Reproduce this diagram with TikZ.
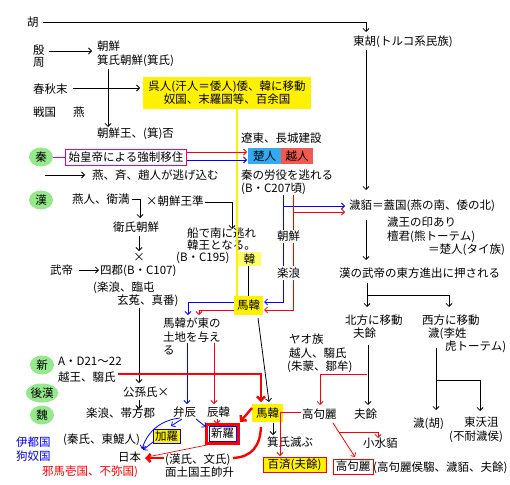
\documentclass[tikz,border=0pt]{standalone}
\usepackage{fontspec}
\newfontfamily\jp{Noto Sans CJK JP}
\usetikzlibrary{arrows.meta,shapes.geometric}
\definecolor{grn}{RGB}{150,232,140}
\definecolor{sky}{RGB}{51,170,240}
\definecolor{tomatoc}{RGB}{240,90,80}
\definecolor{paley}{RGB}{255,255,110}
\begin{document}
\begin{tikzpicture}[x=1pt,y=-1pt,
  lbl/.style={font=\jp\fontsize{11.5}{12}\selectfont, inner sep=0pt, anchor=west, text height=10pt, text depth=1.5pt},
  bx/.style={font=\jp\fontsize{11.5}{12}\selectfont, inner sep=0pt, anchor=center},
  gr/.style={ellipse, fill=grn, inner sep=0pt, font=\jp\fontsize{11.5}{12}\selectfont},
  ar/.style={-{Straight Barb[length=3pt,width=6pt]}, line width=0.8pt},
  ln/.style={line width=0.8pt},
  tr/.style={red, line width=2.4pt},
  tra/.style={red, line width=2.4pt, -{Straight Barb[length=4pt,width=8pt]}}]
\useasboundingbox (0,0) rectangle (510,484);
\fill[white] (0,0) rectangle (510,484);

% ---------- boxes ----------
\node[bx, fill=yellow, minimum width=168pt, minimum height=31pt, align=center] (wu) at (227,93) {呉人(汗人＝倭人)倭、韓に移動\\[1pt]奴国、末羅国等、百余国};
\node[bx, draw=magenta, line width=1pt, minimum width=121pt, minimum height=16pt] (shiko) at (126,157) {始皇帝による強制移住};
\node[bx, fill=sky, minimum width=33pt, minimum height=16pt] (chu) at (264.5,156) {楚人};
\node[bx, fill=tomatoc, minimum width=32pt, minimum height=16pt] (yue) at (297,156) {越人};
\node[bx, fill=paley, minimum width=23pt, minimum height=14pt] (hanbox) at (249.5,259) {韓};
\node[bx, fill=yellow, minimum width=29pt, minimum height=19pt] (mahan1) at (248.5,305.5) {馬韓};
\node[bx, fill=yellow, minimum width=31pt, minimum height=18pt] (mahan2) at (267.5,413) {馬韓};
\node[bx, fill=yellow, draw=blue, line width=0.8pt, minimum width=27pt, minimum height=14pt] (kara) at (166.5,436) {加羅};
\draw[red, line width=2.2pt] (206.5,424.5) rectangle (238.5,443.5);
\node[bx, fill=white, draw=blue, line width=0.8pt, minimum width=27pt, minimum height=15pt, text height=9pt, text depth=1.5pt] (silla) at (222.5,434) {新羅};
\node[bx, fill=yellow, draw=red, line width=0.9pt, minimum width=63pt, minimum height=15pt] (baekje) at (294.5,464.5) {百済(夫餘)};
\node[bx, draw=red, line width=0.9pt, minimum width=40pt, minimum height=15pt] (gogu2) at (353,466.5) {高句麗};

% ---------- green ellipses ----------
\node[gr, minimum width=24pt, minimum height=19pt] (qin) at (41,157) {秦};
\node[gr, minimum width=24pt, minimum height=19pt] (hann) at (41,200) {漢};
\node[gr, minimum width=24pt, minimum height=19pt] (xin) at (42,365) {新};
\node[gr, minimum width=32pt, minimum height=19pt] (houhan) at (42,393) {後漢};
\node[gr, minimum width=24pt, minimum height=19pt] (wei) at (42,415) {魏};

% ---------- labels ----------
\node[lbl] (hu) at (27,22) {胡};
\node[lbl] (yin) at (33,50) {殷};
\node[lbl] (zhou) at (33,62) {周};
\node[lbl] (cx1) at (97,46) {朝鮮};
\node[lbl] (cx2) at (97,60) {箕氏朝鮮(箕氏)};
\node[lbl] (chunqiu) at (33,89) {春秋末};
\node[lbl] (zhanguo) at (33,112) {戦国};
\node[lbl] (yan) at (73,112) {燕};
\node[lbl] (cxw) at (97,133) {朝鮮王、(箕)否};
\node[lbl] (liaodong) at (241,138) {遼東、長城建設};
\node[lbl] (taoyan) at (92,175) {燕、斉、趙人が逃げ込む};
\node[lbl] (qinrun) at (241,175) {秦の労役を逃れる};
\node[lbl] (qinrun2) at (241,188) {(B・C207頃)};
\node[lbl] (donghu) at (353,41) {東胡(トルコ系民族)};
\node[lbl] (yanren) at (72,199) {燕人、衛満};
\node[lbl] (weishi) at (113,227) {衛氏朝鮮};
\node[lbl] (zhun) at (146,201) {×朝鮮王準};
\node[lbl] (chuan1) at (187,233) {船で南に逃れ};
\node[lbl] (chuan2) at (187,245) {韓王となる。};
\node[lbl] (chuan3) at (176,257) {(B・C195)};
\node[lbl] (huimo) at (349,205) {濊貊＝蓋国(燕の南、倭の北)};
\node[lbl] (hw1) at (387,222) {濊王の印あり};
\node[lbl] (hw2) at (387,236) {檀君(熊トーテム)};
\node[lbl] (hw3) at (428,249) {＝楚人(タイ族)};
\node[lbl] (cx3) at (277,236) {朝鮮};
\node[lbl] (lelang) at (277,273) {楽浪};
\node[lbl] (wudi) at (50,270) {武帝};
\node[lbl] (sijun) at (100,270) {四郡(B・C107)};
\node[lbl] (sj2) at (93,287) {(楽浪、臨屯};
\node[lbl] (sj3) at (117,300) {玄菟、真番)};
\node[bx] (cross) at (139,257) {×};
\node[lbl] (mhd1) at (163,323) {馬韓が東の};
\node[lbl] (mhd2) at (163,337) {土地を与え};
\node[lbl] (mhd3) at (163,350) {る};
\node[lbl] (ad) at (58,361) {A・D21～22};
\node[lbl] (yuewang) at (58,377) {越王、騶氏};
\node[lbl] (gongsun) at (123,392) {公孫氏×};
\node[lbl] (daifang) at (86,413) {楽浪、帯方郡};
\node[lbl] (bian) at (173,412) {弁辰};
\node[lbl] (chenhan) at (207,412) {辰韓};
\node[lbl] (qinshi) at (63,439) {(秦氏、東鯷人)};
\node[lbl] (riben) at (118,457) {日本};
\node[lbl, text=blue] (ito) at (16,442) {伊都国};
\node[lbl, text=blue] (kunu) at (16,456) {狗奴国};
\node[lbl, text=red] (yamatai) at (42,471) {邪馬壱国、不弥国)};
\node[lbl] (hanshi) at (165,459) {(漢氏、文氏)};
\node[lbl] (mianto) at (165,472) {面土国王帥升};
\node[lbl] (yao1) at (289,339) {ヤオ族};
\node[lbl] (yao2) at (289,353) {越人、騶氏};
\node[lbl] (yao3) at (287,366) {(朱蒙、鄒牟)};
\node[lbl] (wuedi) at (339,273) {漢の武帝の東方進出に押される};
\node[lbl] (bei1) at (345,320) {北方に移動};
\node[lbl] (bei2) at (353,333) {夫餘};
\node[lbl] (xi1) at (422,320) {西方に移動};
\node[lbl] (xi2) at (428,333) {濊(李姓};
\node[lbl] (xi3) at (445,346) {虎トーテム)};
\node[lbl] (gogu) at (302,414) {高句麗};
\node[lbl] (fuyu) at (354,414) {夫餘};
\node[lbl] (huihu) at (413,423) {濊(胡)};
\node[lbl] (dongwo) at (464,422) {東沃沮};
\node[lbl] (dongwo2) at (449,436) {(不耐濊侯)};
\node[lbl] (jishi) at (267,442) {箕氏滅ぶ};
\node[lbl] (xiaoshui) at (363,443) {小水貊};
\node[lbl] (gogu3) at (373,467) {(高句麗侯騶、濊貊、夫餘)};

% ---------- connectors ----------
\draw[ar] (43,22) -- (366,22) -- (366,32);
\draw[ar] (366,50) -- (366,190);
\draw[ar] (49,51) -- (92,51);
\draw[ar] (108,69) -- (108,127);
\draw[ar] (73,88) -- (140,88);
\draw[yellow, line width=1.5pt] (237,108) -- (237,296);
\draw[magenta, line width=1pt] (qin.east) -- (shiko.west);
\draw[ar, red] (187,152) -- (247,152);
\draw[ar, blue] (187,160) -- (247,160);
\draw[ar] (45,175) -- (85,175);
\draw[ar] (132,199) -- (140,199) -- (140,218);
\draw[ar] (205,202) -- (232,202) -- (232,229);
\draw[ar] (139,236) -- (139,251);
\draw[ar] (79,270) -- (99,270);
\draw[ar] (139,308) -- (139,383);
\draw[ar] (139,400) -- (139,409);
\draw[ln] (hanbox.south -| 248,0) -- (mahan1.north -| 248,0);
% blue / red from Qin refugees
\draw[ln, blue] (283,195) -- (283,230) (283,243) -- (283,266);
\draw[ar, blue] (283,280) -- (283,302) -- (264,302);
\draw[ar, blue] (283,206) -- (345,206);
\draw[ln, red] (293,195) -- (293,230) (293,243) -- (293,266);
\draw[ar, red] (293,280) -- (293,310) -- (264,310);
\draw[ar, red] (293,212) -- (345,212);
% from upper Mahan
\draw[ar, blue] (234,302) -- (188,302) -- (188,315);
\draw[ar, red] (234,310) -- (199,310) -- (199,315);
\draw[ar, blue] (187,343) -- (187,404);
\draw[ar, red] (214,343) -- (214,404);
\draw[ar] (258,318) -- (269,402);
% thick red
\draw[tra] (118,374) -- (261,374) -- (261,402);
\draw[tra] (252,408) -- (240,422);
\draw[tr] (261,427) .. controls (260,446) and (252,457) .. (233,458);
\draw[tra] (164,458) -- (145,458);
\draw[ar, red, line width=0.7pt] (207,445) -- (147,457);
% Byeonhan / Jinhan
\draw[ar, blue] (180,418) .. controls (162,420) and (148,430) .. (142,449);
\draw[ar, blue] (182,419) -- (171,426);
\draw[ar, blue] (196,419) -- (206,427);
\draw[ar, red] (217,419) -- (217,424);
\draw[ar, blue] (153,442) -- (143,450);
% lower right
\draw[ar] (273,423) -- (273,435);
\draw[ar, red] (301,412) -- (280,412) -- (280,456);
\draw[ar, red] (367,374) -- (320,374) -- (320,405);
\draw[ar] (368,345) -- (368,405);
\draw[ar] (366,220) -- (366,260);
\draw[ar] (367,283) -- (367,307);
\draw[ar] (367,295) -- (449,295) -- (449,307);
\draw[ar] (436,348) -- (436,410);
\draw[ar] (436,380) -- (480,380) -- (480,411);
\draw[ar, red] (333,423) -- (355,457);
\draw[ar, red] (339,432) -- (378,432) -- (378,438);
\end{tikzpicture}
\end{document}
